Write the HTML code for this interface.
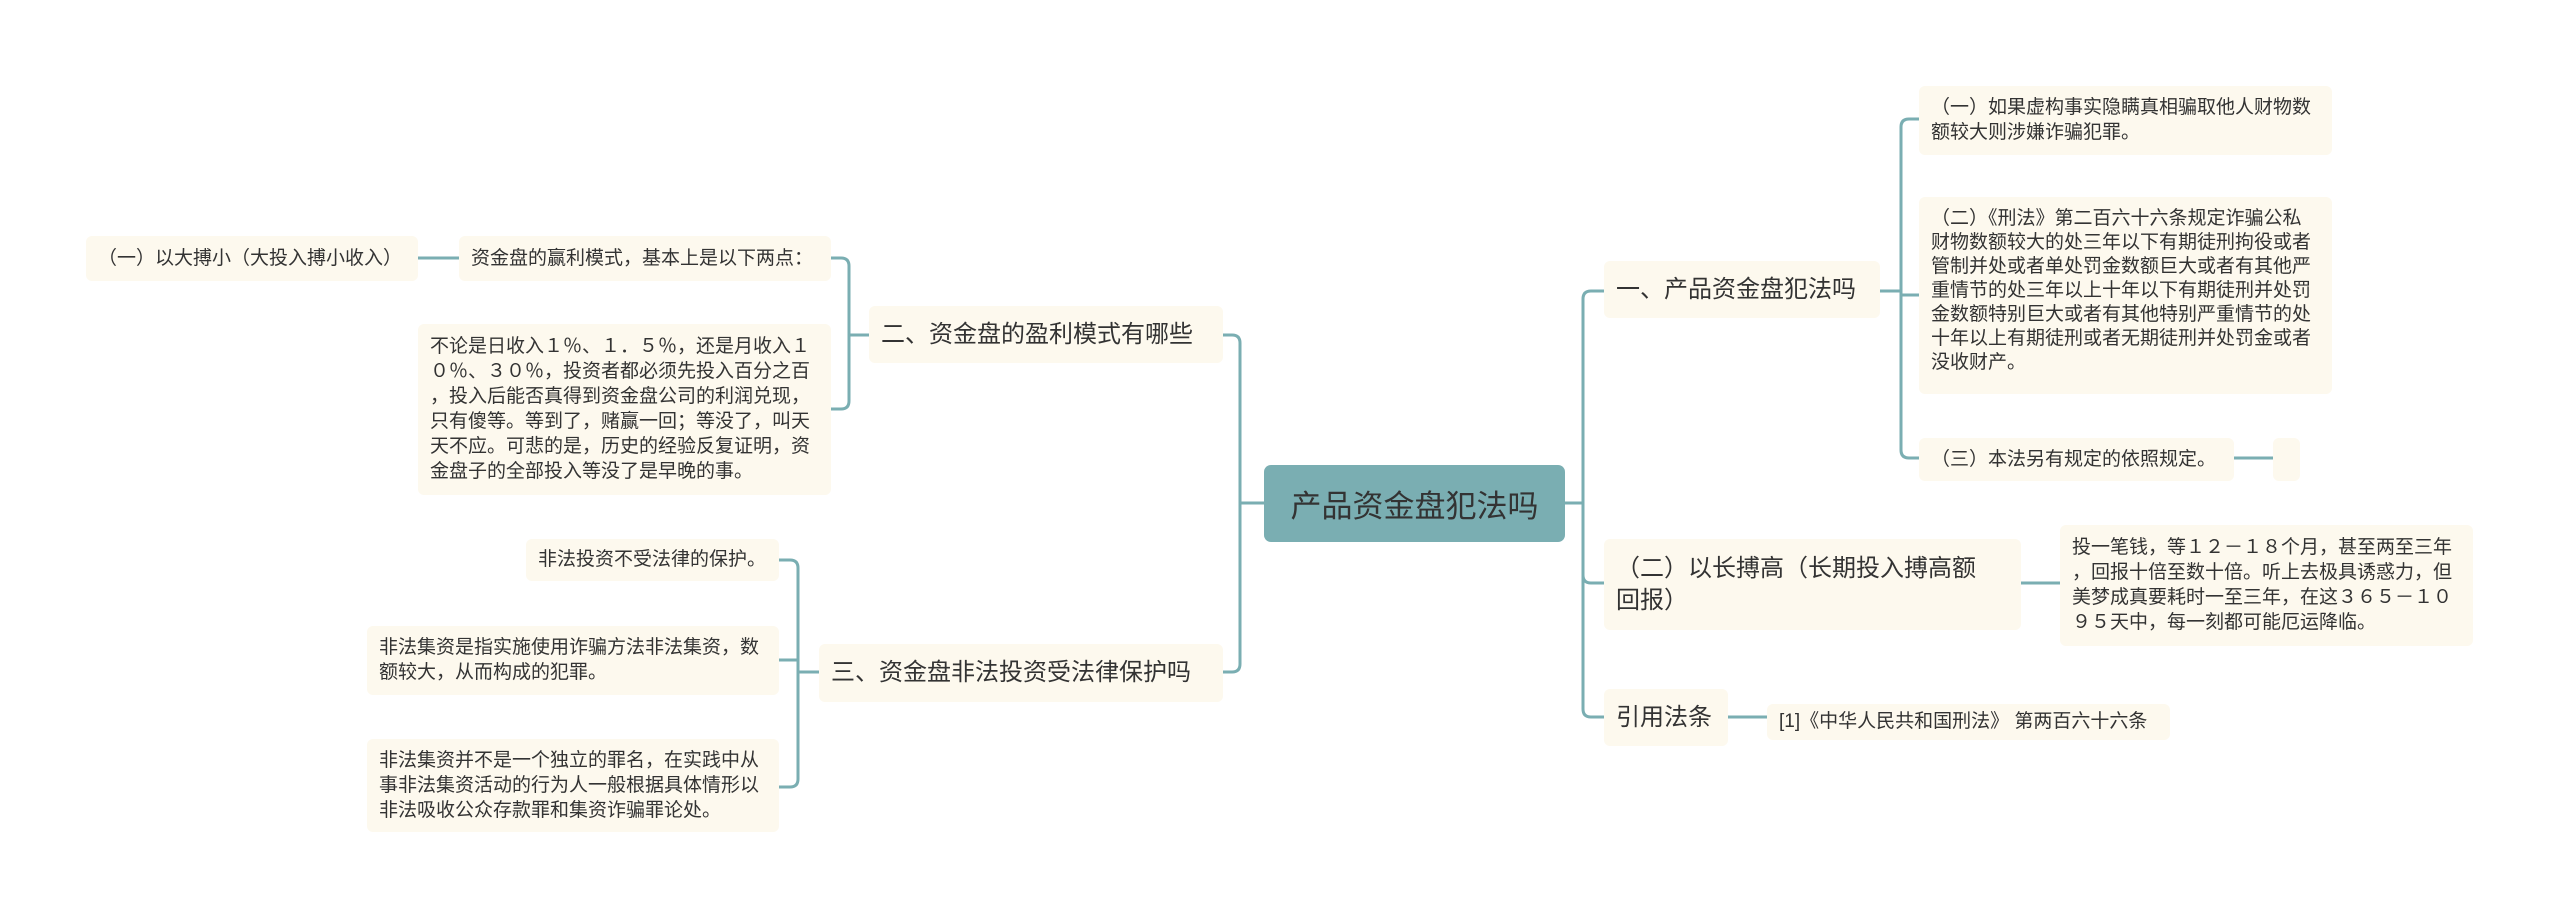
<!DOCTYPE html>
<html><head><meta charset="utf-8"><style>
body{margin:0;width:2560px;height:919px;background:#fff;position:relative;overflow:hidden;font-family:"Liberation Sans","Noto Sans CJK SC",sans-serif;color:#333}
.n{position:absolute;background:#fdf9ee;border-radius:6px;box-sizing:border-box;font-size:18px;line-height:25px;padding:6px 12px;white-space:nowrap}
.b{font-size:24px;line-height:32px;display:flex;align-items:center;padding:0 12px}
.c{position:absolute;left:1264px;top:465px;width:301px;height:77px;background:#7aaeb2;border-radius:7px;font-size:31px;display:flex;align-items:center;justify-content:center;color:#333}
svg{position:absolute;left:0;top:0}
</style></head><body>
<svg width="2560" height="919" fill="none" stroke="#7aaeb2" stroke-width="3">
<path d="M1565 503 H1583"/>
<path d="M1583 299 Q1583 291 1591 291 H1604"/>
<path d="M1583 299 V709 Q1583 717 1591 717 H1604"/>
<path d="M1583 575 Q1583 583 1591 583 H1604"/>
<path d="M1880 291 H1901"/>
<path d="M1901 127 Q1901 119 1909 119 H1919"/>
<path d="M1901 127 V450 Q1901 458 1909 458 H1919"/>
<path d="M1901 295 H1919"/>
<path d="M2234 458 H2273"/>
<path d="M2021 583 H2060"/>
<path d="M1728 717 H1767"/>
<path d="M1264 503 H1240"/>
<path d="M1240 343 Q1240 335 1232 335 H1223"/>
<path d="M1240 343 V664 Q1240 672 1232 672 H1223"/>
<path d="M869 335 H849"/>
<path d="M849 266 Q849 258 841 258 H831"/>
<path d="M849 266 V401 Q849 409 841 409 H831"/>
<path d="M459 258 H418"/>
<path d="M819 672 H798"/>
<path d="M798 568 Q798 560 790 560 H779"/>
<path d="M798 568 V779 Q798 787 790 787 H779"/>
<path d="M798 660 H779"/>
</svg>

<div class="c">产品资金盘犯法吗</div>

<div class="n b" style="left:1604px;top:261px;width:276px;height:57px">一、产品资金盘犯法吗</div>
<div class="n" style="left:1919px;top:86px;width:413px;height:69px;padding-top:9px;font-size:19px">（一）如果虚构事实隐瞒真相骗取他人财物数<br>额较大则涉嫌诈骗犯罪。</div>
<div class="n" style="left:1919px;top:197px;width:413px;height:197px;padding-top:10px;font-size:19px;line-height:24px">（二）《刑法》第二百六十六条规定诈骗公私<br>财物数额较大的处三年以下有期徒刑拘役或者<br>管制并处或者单处罚金数额巨大或者有其他严<br>重情节的处三年以上十年以下有期徒刑并处罚<br>金数额特别巨大或者有其他特别严重情节的处<br>十年以上有期徒刑或者无期徒刑并处罚金或者<br>没收财产。</div>
<div class="n" style="left:1919px;top:438px;width:315px;height:43px;padding-top:9px;font-size:19px">（三）本法另有规定的依照规定。</div>
<div class="n" style="left:2273px;top:438px;width:27px;height:43px"></div>

<div class="n b" style="left:1604px;top:539px;width:417px;height:91px;white-space:normal">（二）以长搏高（长期投入搏高额<br>回报）</div>
<div class="n" style="left:2060px;top:525px;width:413px;height:121px;padding-top:10px;font-size:19px">投一笔钱，等１２－１８个月，甚至两至三年<br>，回报十倍至数十倍。听上去极具诱惑力，但<br>美梦成真要耗时一至三年，在这３６５－１０<br>９５天中，每一刻都可能厄运降临。</div>

<div class="n b" style="left:1604px;top:689px;width:124px;height:57px">引用法条</div>
<div class="n" style="left:1767px;top:704px;width:403px;height:36px;padding-top:5px;font-size:19px">[1]《中华人民共和国刑法》 第两百六十六条</div>

<div class="n b" style="left:869px;top:306px;width:354px;height:57px">二、资金盘的盈利模式有哪些</div>
<div class="n" style="left:459px;top:236px;width:372px;height:45px;padding-top:10px;font-size:19px">资金盘的赢利模式，基本上是以下两点：</div>
<div class="n" style="left:86px;top:236px;width:332px;height:45px;padding-top:10px;font-size:19px">（一）以大搏小（大投入搏小收入）</div>
<div class="n" style="left:418px;top:324px;width:413px;height:171px;padding-top:10px;font-size:19px">不论是日收入１％、１．５％，还是月收入１<br>０％、３０％，投资者都必须先投入百分之百<br>，投入后能否真得到资金盘公司的利润兑现，<br>只有傻等。等到了，赌赢一回；等没了，叫天<br>天不应。可悲的是，历史的经验反复证明，资<br>金盘子的全部投入等没了是早晚的事。</div>

<div class="n b" style="left:819px;top:644px;width:404px;height:58px">三、资金盘非法投资受法律保护吗</div>
<div class="n" style="left:526px;top:539px;width:253px;height:42px;padding-top:8px;font-size:19px">非法投资不受法律的保护。</div>
<div class="n" style="left:367px;top:626px;width:412px;height:69px;padding-top:9px;font-size:19px">非法集资是指实施使用诈骗方法非法集资，数<br>额较大，从而构成的犯罪。</div>
<div class="n" style="left:367px;top:739px;width:412px;height:93px;padding-top:9px;font-size:19px">非法集资并不是一个独立的罪名，在实践中从<br>事非法集资活动的行为人一般根据具体情形以<br>非法吸收公众存款罪和集资诈骗罪论处。</div>
</body></html>
